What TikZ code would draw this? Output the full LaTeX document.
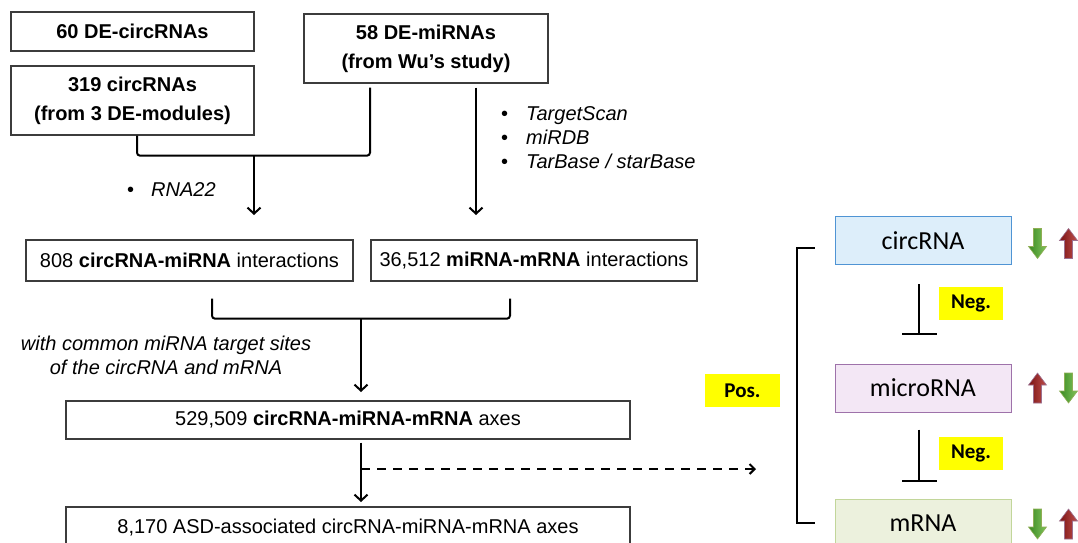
\documentclass[tikz,border=0pt]{standalone}
\usepackage{fontspec}
\setmainfont{Liberation Sans}
\newfontfamily\calibri{Carlito}
\usetikzlibrary{arrows.meta,calc}
\definecolor{boxline}{HTML}{3C3C3C}
\definecolor{circfill}{HTML}{DDEEFA}
\definecolor{circline}{HTML}{4F94D4}
\definecolor{mirfill}{HTML}{F3E7F5}
\definecolor{mirline}{HTML}{9E72AA}
\definecolor{mrnafill}{HTML}{ECF1DD}
\definecolor{mrnaline}{HTML}{C2D69A}
\definecolor{hilite}{HTML}{FFFF00}
\definecolor{gdark}{HTML}{3A8A22}
\definecolor{glight}{HTML}{82C45C}
\definecolor{gedge}{HTML}{8FAE55}
\definecolor{rdark}{HTML}{7A1212}
\definecolor{rlight}{HTML}{C0504D}
\definecolor{redge}{HTML}{9C7090}
\tikzset{
  flowbox/.style={draw=boxline, line width=1.3pt, inner sep=0pt, align=center,
    font=\fontsize{20}{29}\selectfont},
  headbox/.style={flowbox, font=\bfseries\fontsize{20}{29}\selectfont},
  link/.style={line width=2pt, -{Straight Barb[length=6pt,width=13pt]}},
  joiner/.style={line width=2pt, rounded corners=3pt},
  rnabox/.style={line width=1pt, minimum width=176pt, minimum height=48pt, inner sep=0pt,
    font=\calibri\fontsize{26}{30}\selectfont},
  tag/.style={fill=hilite, inner sep=0pt, font=\calibri\bfseries\fontsize{21}{24}\selectfont},
  inhibit/.style={line width=1.6pt, -{Bar[width=35pt,line width=1.6pt]}},
  note/.style={inner sep=0pt, font=\itshape\fontsize{20}{24}\selectfont},
  uparr/.pic={\shade[left color=rdark, right color=rlight, draw=redge, line width=0.6pt]
    (0,-15) -- (9,-3) -- (4,-3) -- (4,15) -- (-4,15) -- (-4,-3) -- (-9,-3) -- cycle;},
  downarr/.pic={\shade[left color=gdark, right color=glight, draw=gedge, line width=0.6pt]
    (0,15) -- (9,3) -- (4,3) -- (4,-15) -- (-4,-15) -- (-4,3) -- (-9,3) -- cycle;}
}
\begin{document}
\begin{tikzpicture}[x=1pt,y=-1pt]
\useasboundingbox (0,0) rectangle (1078,542);
\clip (0,0) rectangle (1078,542);

% input sets
\node[headbox, minimum width=243pt, minimum height=39pt] (n60) at (132.5,31.5) {60 DE-circRNAs};
\node[headbox, minimum width=243pt, minimum height=69pt] (n319) at (132.5,100.5) {319 circRNAs\\(from 3 DE-modules)};
\node[headbox, minimum width=244pt, minimum height=69pt] (n58) at (426,48.5) {58 DE-miRNAs\\(from Wu’s study)};

% joining the circRNAs with the miRNAs
\draw[joiner] ([xshift=4.5pt]n319.south) -- ++(0,20) -| ([xshift=-56pt,yshift=-4pt]n58.south);
\coordinate (j1) at (254,155);
\coordinate (t1) at (254,215);
\draw[link] (j1) -- (t1);
\node[note, anchor=west] (rna22) at (127,190) {\upshape\textbullet\hspace{17pt}\itshape RNA22};

\coordinate (t2) at (476,215);
\draw[link] ([xshift=50pt,yshift=-4pt]n58.south) -- (t2);
\node[note, anchor=north west, align=left] (dbs) at (501,106)
  {\upshape\textbullet\hspace{18pt}\itshape TargetScan\\
   \upshape\textbullet\hspace{18pt}\itshape miRDB\\
   \upshape\textbullet\hspace{18pt}\itshape TarBase / starBase};

% interaction sets
\node[flowbox, minimum width=327pt, minimum height=41pt] (n808) at (189.5,260.5)
  {808 \textbf{circRNA-miRNA} interactions};
\node[flowbox, minimum width=326pt, minimum height=41pt] (n365) at (534,260.5)
  {36,512 \textbf{miRNA-mRNA} interactions};

\draw[joiner] ([xshift=22.5pt,yshift=-17pt]n808.south) -- ++(0,20) -| ([xshift=-24pt,yshift=-17pt]n365.south);
\coordinate (j2) at (361,318);
\coordinate (t3) at (361,392);
\draw[link] (j2) -- (t3);
\node[note, align=center] (common) at (166,355)
  {with common miRNA target sites\\of the circRNA and mRNA};

% axes
\node[flowbox, minimum width=564pt, minimum height=38pt] (n529) at (348,420)
  {529,509 \textbf{circRNA-miRNA-mRNA} axes};
\node[flowbox, minimum width=564pt, minimum height=41pt] (n8170) at (348,527.5)
  {8,170 ASD-associated circRNA-miRNA-mRNA axes};
\coordinate (t4) at (361,502);
\draw[link] ([xshift=13pt,yshift=-3pt]n529.south) -- (t4);
\coordinate (d0) at (361,469);
\coordinate (d1) at (756,469);
\draw[line width=2pt, dash pattern=on 9pt off 7pt, -{Straight Barb[length=5pt,width=10pt]}] (d0) -- (d1);

% regulation scheme
\node[rnabox, fill=circfill, draw=circline] (circ) at (923,240.5) {circRNA};
\node[rnabox, fill=mirfill, draw=mirline] (micro) at (923,388) {microRNA};
\node[rnabox, fill=mrnafill, draw=mrnaline] (mrna) at (923,523) {mRNA};

\draw[inhibit] ([xshift=-4pt,yshift=-19pt]circ.south) -- ([xshift=-4pt,yshift=29pt]micro.north);
\draw[inhibit] ([xshift=-4pt,yshift=-17pt]micro.south) -- ([xshift=-4pt,yshift=17pt]mrna.north);
\node[tag, minimum width=64pt, minimum height=33pt] (neg1) at (971,303.5) {Neg.};
\node[tag, minimum width=64pt, minimum height=33pt] (neg2) at (971,453.5) {Neg.};

\draw[line width=2pt] ([xshift=-20pt,yshift=-7.5pt]circ.west) -- ++(-18,0) |- ([xshift=-20pt]mrna.west);
\node[tag, minimum width=75pt, minimum height=33pt] (pos) at (742.5,390.5) {Pos.};

% direction of change
\pic at ([xshift=26pt,yshift=-3pt]circ.east) {downarr};
\pic at ([xshift=57pt,yshift=-3pt]circ.east) {uparr};
\pic at ([xshift=26pt]micro.east) {uparr};
\pic at ([xshift=57pt]micro.east) {downarr};
\pic at ([xshift=26pt,yshift=-1pt]mrna.east) {downarr};
\pic at ([xshift=57pt,yshift=-1pt]mrna.east) {uparr};
\end{tikzpicture}
\end{document}
